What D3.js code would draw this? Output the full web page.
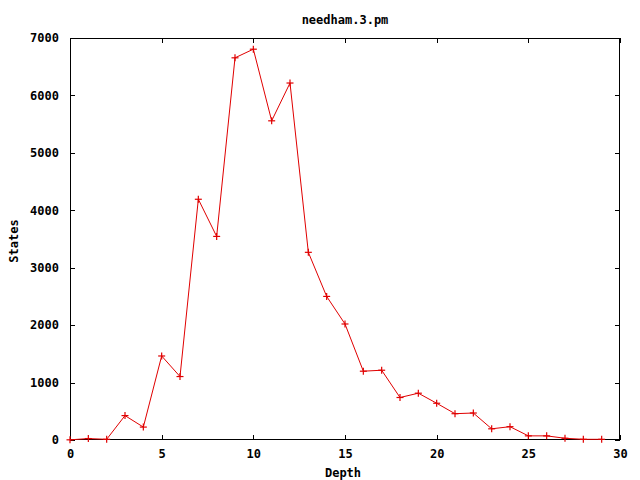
<!DOCTYPE html>
<html>
<head>
<meta charset="utf-8">
<script src="https://cdn.jsdelivr.net/npm/d3@7"></script>
<style>
  html, body { margin: 0; padding: 0; background: #fff; }
  svg text { font-family: "DejaVu Sans Mono", "Liberation Mono", monospace; font-weight: bold; font-size: 12px; fill: #000; }
</style>
</head>
<body>
<svg id="chart" width="640" height="480"></svg>
<script>
const title = "needham.3.pm";
const xLabel = "Depth";
const yLabel = "States";
const depth = [0,1,2,3,4,5,6,7,8,9,10,11,12,13,14,15,16,17,18,19,20,21,22,23,24,25,26,27,28,29];
const states = [3,25,12,425,225,1463,1105,4192,3545,6655,6805,5558,6216,3268,2500,2020,1198,1215,740,815,640,458,470,195,232,72,72,30,12,12];
const xTicks = [0,5,10,15,20,25,30];
const yTicks = [0,1000,2000,3000,4000,5000,6000,7000];

const svg = d3.select("#chart");
const L = 70, R = 620, T = 38, B = 440;
const x = d3.scaleLinear().domain([0, 30]).range([L, R]);
const y = d3.scaleLinear().domain([0, 7000]).range([B, T]);
const tick = 5;

// border
svg.append("rect").attr("x", L + 0.5).attr("y", T + 0.5)
  .attr("width", R - L - 1).attr("height", B - T - 1)
  .attr("fill", "none").attr("stroke", "#000").attr("stroke-width", 1);

// axes with inward ticks, and mirror ticks
const xAxisB = d3.axisBottom(x).tickValues(xTicks).tickSize(-tick).tickPadding(tick + 4).tickFormat(d3.format("d"));
const xAxisT = d3.axisTop(x).tickValues(xTicks).tickSize(-tick).tickFormat("");
const yAxisL = d3.axisLeft(y).tickValues(yTicks).tickSize(-tick).tickPadding(tick + 6).tickFormat(d3.format("d"));
const yAxisR = d3.axisRight(y).tickValues(yTicks).tickSize(-tick).tickFormat("");

function style(g) {
  g.select(".domain").remove();
  g.selectAll(".tick line").attr("stroke", "#000").attr("shape-rendering", "crispEdges");
  g.selectAll("text").attr("font-family", null).attr("font-size", null).style("font-weight", "bold");
  g.attr("font-family", null).attr("font-size", null);
}
svg.append("g").attr("transform", `translate(0,${B})`).call(xAxisB).call(style);
svg.append("g").attr("transform", `translate(0,${T})`).call(xAxisT).call(style);
svg.append("g").attr("transform", `translate(${L},0)`).call(yAxisL).call(style);
svg.append("g").attr("transform", `translate(${R},0)`).call(yAxisR).call(style);

// title and labels
svg.append("text").attr("x", 345).attr("y", 24).attr("text-anchor", "middle").text(title);
svg.append("text").attr("x", 343).attr("y", 477).attr("text-anchor", "middle").text(xLabel);
svg.append("text").attr("transform", "translate(18,241) rotate(-90)").attr("text-anchor", "middle").text(yLabel);

// data line
const color = "#e00000";
const data = depth.map((d, i) => [d, states[i]]);
svg.append("path").datum(data)
  .attr("fill", "none").attr("stroke", color).attr("stroke-width", 1)
  .attr("d", d3.line().x(d => x(d[0])).y(d => y(d[1])));

// plus markers
const ps = 3.5;
const pts = svg.append("g").selectAll("g").data(data).join("g")
  .attr("transform", d => `translate(${x(d[0])},${y(d[1])})`);
pts.append("line").attr("x1", -ps).attr("x2", ps).attr("y1", 0).attr("y2", 0).attr("stroke", color).attr("stroke-width", 1.2);
pts.append("line").attr("y1", -ps).attr("y2", ps).attr("x1", 0).attr("x2", 0).attr("stroke", color).attr("stroke-width", 1.2);
</script>
</body>
</html>
